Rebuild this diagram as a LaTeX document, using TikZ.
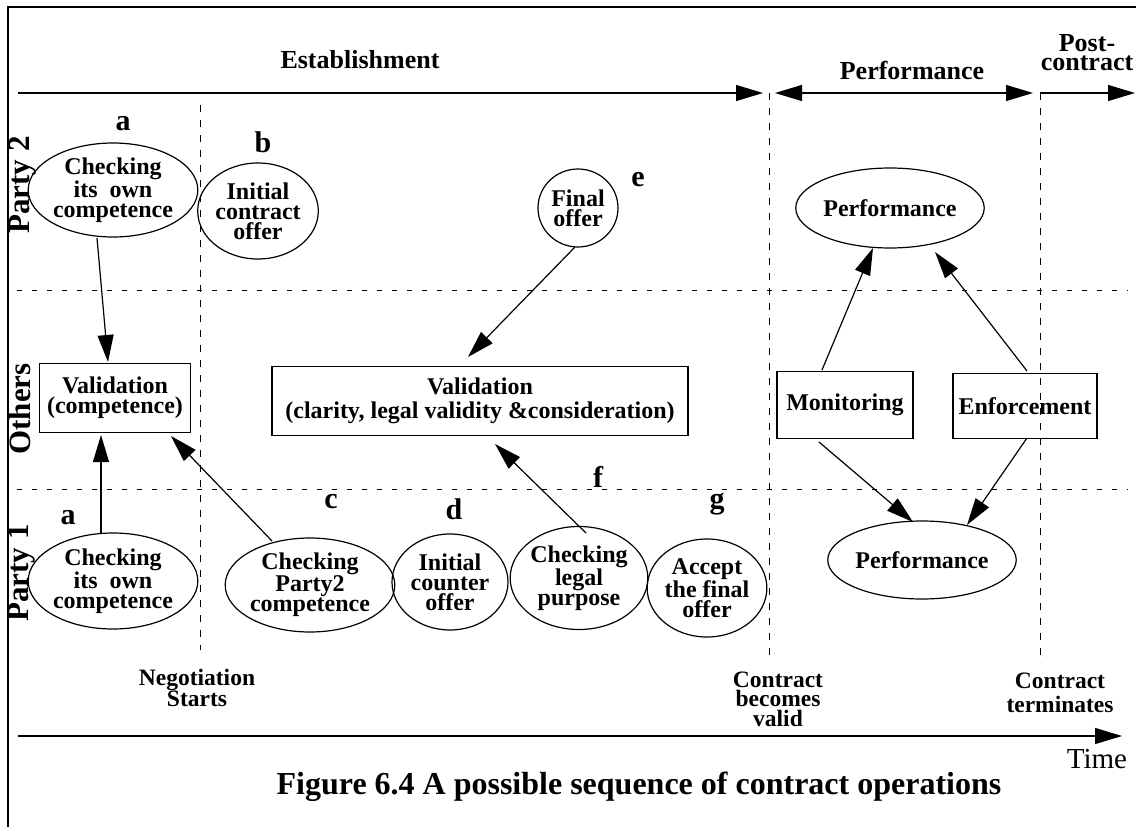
\documentclass[tikz,border=0pt]{standalone}
\usepackage{fontspec}
\setmainfont{Liberation Serif}
\usetikzlibrary{shapes.geometric,arrows.meta,calc}

\begin{document}
\begin{tikzpicture}[x={(1pt,0)},y={(0,-1pt)},
  line width=1.2pt,
  tip/.style={-{Triangle[length=27pt,width=16pt]}},
  dtip/.style={{Triangle[length=27pt,width=16pt]}-{Triangle[length=27pt,width=16pt]}},
  txt/.style={font=\fontsize{24}{20}\selectfont\bfseries,align=center,inner sep=0pt},
  oval/.style={txt,ellipse,draw,line width=1.2pt},
  boxnode/.style={txt,rectangle,draw,line width=1.2pt},
  letter/.style={font=\fontsize{30}{30}\selectfont\bfseries,inner sep=0pt},
  lane/.style={font=\fontsize{31}{31}\selectfont\bfseries,rotate=90,inner sep=0pt},
  phase/.style={font=\fontsize{26}{19}\selectfont\bfseries,align=center,inner sep=0pt},
  milestone/.style={font=\fontsize{23.5}{19.5}\selectfont\bfseries,align=center,inner sep=0pt},
  vdash/.style={dash pattern=on 7pt off 8pt,line width=0.9pt},
  hdot/.style={dash pattern=on 5pt off 10pt,line width=0.8pt}]

\useasboundingbox (0,0) rectangle (1136,827);

% frame (top and left edges)
\draw[line width=1.4pt] (8,827) -- (8,7) -- (1136,7);

% phase arrows along the top
\coordinate (estA) at (18,93);
\coordinate (estB) at (763,93);
\coordinate (perfA) at (775,93);
\coordinate (perfB) at (1033,93);
\coordinate (postA) at (1040,93);
\coordinate (postB) at (1135,93);
\draw[tip] (estA) -- (estB);
\draw[dtip] (perfA) -- (perfB);
\draw[tip] (postA) -- (postB);
\node[phase] (lblEst) at (360,60) {Establishment};
\node[phase] (lblPerf) at (912,70) {Performance};
\node[phase] (lblPost) at (1087,53) {Post-\\contract};

% time axis
\coordinate (timeA) at (18,736);
\coordinate (timeB) at (1122,736);
\draw[tip] (timeA) -- (timeB);
\node[font=\fontsize{29}{29}\selectfont,inner sep=0pt] (lblTime) at (1097,759) {Time};

% lane separators
\coordinate (h1a) at (17,290); \coordinate (h1b) at (1128,290);
\coordinate (h2a) at (17,489); \coordinate (h2b) at (1128,489);
\draw[hdot] (h1a) -- (h1b);
\draw[hdot] (h2a) -- (h2b);

% milestones
\coordinate (v1a) at (200,105); \coordinate (v1b) at (200,650);
\coordinate (v2a) at (769,93);  \coordinate (v2b) at (769,657);
\coordinate (v3a) at (1040,93); \coordinate (v3b) at (1040,663);
\draw[vdash] (v1a) -- (v1b);
\draw[vdash] (v2a) -- (v2b);
\draw[vdash] (v3a) -- (v3b);
\node[milestone] (mNeg) at (197,688) {Negotiation\\Starts};
\node[milestone] (mValid) at (778,699) {Contract\\becomes\\valid};
\node[milestone,font=\fontsize{23.5}{23.5}\selectfont\bfseries] (mTerm) at (1060,693) {Contract\\terminates};

% lane titles
\node[lane] (lP2) at (23,185) {Party 2};
\node[lane] (lOth) at (20,409) {Others};
\node[lane] (lP1) at (22,573) {Party 1};

% Party 2 lane
\node[oval,minimum width=147pt,minimum height=94pt] (a2) at (113,190) {Checking\\its~~own\\competence};
\node[letter] (la2) at (123,124) {a};
\node[oval,minimum width=104pt,minimum height=96pt] (b) at (258,211) {Initial\\contract\\offer};
\node[letter] (lb) at (263,142) {b};
\node[oval,minimum width=80pt,minimum height=78pt] (fo) at (578,208) {Final\\offer};
\node[letter] (le) at (638,180) {e};
\node[oval,minimum width=160pt,minimum height=80pt] (perftop) at (890,208) {Performance};

% Others lane
\node[boxnode,minimum width=151pt,minimum height=69pt] (valc) at (115,398) {Validation\\(competence)};
\node[boxnode,minimum width=416pt,minimum height=69pt,font=\fontsize{24}{24}\selectfont\bfseries] (valb) at (480,401) {Validation\\(clarity, legal validity \&consideration)};
\node[boxnode,minimum width=136pt,minimum height=67pt] (mon) at (845,405) {Monitoring};
\node[boxnode,minimum width=144pt,minimum height=65pt] (enf) at (1025,406) {Enforcement};

% Party 1 lane
\node[oval,minimum width=148pt,minimum height=96pt] (a1) at (113,581) {Checking\\its~~own\\competence};
\node[letter] (la1) at (68,518) {a};
\node[oval,minimum width=146pt,minimum height=94pt] (c) at (310,585) {Checking\\Party2\\competence};
\node[letter] (lc) at (331,502) {c};
\node[oval,minimum width=116pt,minimum height=96pt] (d) at (450,582) {Initial\\counter\\offer};
\node[letter] (ld) at (454,509) {d};
\node[oval,minimum width=132pt,minimum height=103pt] (f) at (579,578) {Checking\\legal\\purpose};
\node[letter] (lf) at (598,477) {f};
\node[oval,minimum width=110pt,minimum height=98pt] (g) at (707,588) {Accept\\the final\\offer};
\node[letter] (lg) at (717,504) {g};
\node[oval,minimum width=154pt,minimum height=78pt] (perfbot) at (922,560) {Performance};

% connectors
\draw[tip] ($(a2)+(-16,48)$) -- ($(valc)+(-7,-36)$);
\draw[tip] ($(a1)+(-12,-48)$) -- ($(valc)+(-14,37)$);
\draw[tip] ($(c)+(-38,-44)$) -- ($(valc)+(56,38)$);
\draw[tip] ($(fo)+(-3,39)$) -- ($(valb)+(-12,-44)$);
\draw[tip] ($(f)+(7,-45)$) -- ($(valb)+(15,43)$);
\draw[tip] ($(mon)+(-23,-35)$) -- ($(perftop)+(-17,40)$);
\draw[tip] ($(enf)+(2,-35)$) -- ($(perftop)+(45,44)$);
\draw[tip] ($(mon)+(-26,37)$) -- ($(perfbot)+(-9,-38)$);
\draw[tip] ($(enf)+(2,32)$) -- ($(perfbot)+(45,-35)$);

% caption
\node[font=\fontsize{32}{32}\selectfont\bfseries,inner sep=0pt] (caption) at (639,787) {Figure 6.4 A possible sequence of contract operations};
\end{tikzpicture}
\end{document}
